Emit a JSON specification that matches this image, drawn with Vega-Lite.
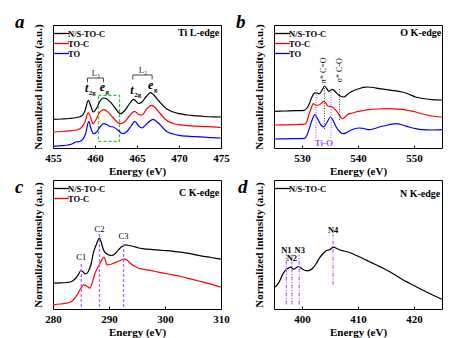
{
  "$schema": "https://vega.github.io/schema/vega-lite/v6.json",
  "background": "white",
  "padding": {"left": 14, "top": 12, "right": 0, "bottom": 0},
  "columns": 2,
  "spacing": {"row": 32, "column": 53},
  "bounds": "flush",
  "datasets": {
    "aL": [
      {"s":"N/S-TO-C","x":455,"y":28.7},{"s":"N/S-TO-C","x":456,"y":29},{"s":"N/S-TO-C","x":457,"y":29.5},{"s":"N/S-TO-C","x":457.8,"y":30.5},{"s":"N/S-TO-C","x":458.4,"y":32},{"s":"N/S-TO-C","x":458.8,"y":37},{"s":"N/S-TO-C","x":459.2,"y":47.7},{"s":"N/S-TO-C","x":459.5,"y":42},{"s":"N/S-TO-C","x":459.8,"y":36},{"s":"N/S-TO-C","x":460.2,"y":40},{"s":"N/S-TO-C","x":460.6,"y":47},{"s":"N/S-TO-C","x":461.0,"y":50},{"s":"N/S-TO-C","x":461.4,"y":49},{"s":"N/S-TO-C","x":461.9,"y":45.3},{"s":"N/S-TO-C","x":462.4,"y":40},{"s":"N/S-TO-C","x":463.0,"y":34.3},{"s":"N/S-TO-C","x":463.5,"y":37},{"s":"N/S-TO-C","x":464.0,"y":43},{"s":"N/S-TO-C","x":464.6,"y":48.7},{"s":"N/S-TO-C","x":465.2,"y":44.5},{"s":"N/S-TO-C","x":465.6,"y":46},{"s":"N/S-TO-C","x":466.1,"y":51.5},{"s":"N/S-TO-C","x":466.6,"y":55.3},{"s":"N/S-TO-C","x":467.0,"y":53},{"s":"N/S-TO-C","x":467.6,"y":47},{"s":"N/S-TO-C","x":468.5,"y":39.3},{"s":"N/S-TO-C","x":469.3,"y":36},{"s":"N/S-TO-C","x":470,"y":34.3},{"s":"N/S-TO-C","x":471,"y":33},{"s":"N/S-TO-C","x":472,"y":32.2},{"s":"N/S-TO-C","x":473,"y":31.5},{"s":"N/S-TO-C","x":474,"y":31.2},{"s":"N/S-TO-C","x":475,"y":31},
      {"s":"TO-C","x":455,"y":16},{"s":"TO-C","x":456,"y":16.5},{"s":"TO-C","x":457,"y":17.2},{"s":"TO-C","x":457.8,"y":18},{"s":"TO-C","x":458.4,"y":20.5},{"s":"TO-C","x":458.8,"y":26},{"s":"TO-C","x":459.2,"y":35.3},{"s":"TO-C","x":459.5,"y":30},{"s":"TO-C","x":459.75,"y":24.3},{"s":"TO-C","x":460.1,"y":28},{"s":"TO-C","x":460.5,"y":35},{"s":"TO-C","x":461.0,"y":38.3},{"s":"TO-C","x":461.4,"y":37},{"s":"TO-C","x":461.9,"y":32.7},{"s":"TO-C","x":462.4,"y":28},{"s":"TO-C","x":463.0,"y":24.3},{"s":"TO-C","x":463.5,"y":26},{"s":"TO-C","x":464.1,"y":32},{"s":"TO-C","x":464.7,"y":36.7},{"s":"TO-C","x":465.2,"y":33.5},{"s":"TO-C","x":465.6,"y":33},{"s":"TO-C","x":466.1,"y":38.5},{"s":"TO-C","x":466.7,"y":42.7},{"s":"TO-C","x":467.1,"y":41},{"s":"TO-C","x":467.7,"y":35},{"s":"TO-C","x":468.5,"y":27.7},{"s":"TO-C","x":469.3,"y":24.5},{"s":"TO-C","x":470,"y":23.3},{"s":"TO-C","x":471,"y":22.3},{"s":"TO-C","x":472,"y":21.8},{"s":"TO-C","x":473,"y":21.4},{"s":"TO-C","x":474,"y":21.2},{"s":"TO-C","x":475,"y":20.5},
      {"s":"TO","x":455,"y":1.5},{"s":"TO","x":456,"y":2.3},{"s":"TO","x":456.8,"y":3},{"s":"TO","x":457.4,"y":4.5},{"s":"TO","x":457.7,"y":6},{"s":"TO","x":458,"y":6.2},{"s":"TO","x":458.3,"y":7},{"s":"TO","x":458.6,"y":9.3},{"s":"TO","x":458.9,"y":15},{"s":"TO","x":459.25,"y":26.7},{"s":"TO","x":459.5,"y":20},{"s":"TO","x":459.8,"y":14.3},{"s":"TO","x":460.2,"y":16},{"s":"TO","x":460.6,"y":21},{"s":"TO","x":461.0,"y":24.3},{"s":"TO","x":461.4,"y":23.5},{"s":"TO","x":461.8,"y":21.5},{"s":"TO","x":462.2,"y":21},{"s":"TO","x":462.7,"y":18},{"s":"TO","x":463.3,"y":14.3},{"s":"TO","x":463.8,"y":16.5},{"s":"TO","x":464.3,"y":22},{"s":"TO","x":464.75,"y":26.7},{"s":"TO","x":465.2,"y":22},{"s":"TO","x":465.6,"y":20},{"s":"TO","x":466.2,"y":24.5},{"s":"TO","x":466.9,"y":28.7},{"s":"TO","x":467.4,"y":26},{"s":"TO","x":468,"y":21},{"s":"TO","x":468.5,"y":16.7},{"s":"TO","x":469.3,"y":14},{"s":"TO","x":470,"y":12.7},{"s":"TO","x":471,"y":11.8},{"s":"TO","x":472,"y":11.3},{"s":"TO","x":473,"y":10.8},{"s":"TO","x":474,"y":10.3},{"s":"TO","x":475,"y":10}
    ],
    "bL": [
      {"s":"N/S-TO-C","x":525,"y":36.7},{"s":"N/S-TO-C","x":527,"y":37},{"s":"N/S-TO-C","x":529,"y":37.3},{"s":"N/S-TO-C","x":530.4,"y":37.7},{"s":"N/S-TO-C","x":530.9,"y":40},{"s":"N/S-TO-C","x":531.3,"y":44.3},{"s":"N/S-TO-C","x":531.7,"y":50},{"s":"N/S-TO-C","x":532.1,"y":54.3},{"s":"N/S-TO-C","x":532.5,"y":55.3},{"s":"N/S-TO-C","x":533.1,"y":54.3},{"s":"N/S-TO-C","x":533.6,"y":58},{"s":"N/S-TO-C","x":534.0,"y":62},{"s":"N/S-TO-C","x":534.4,"y":59.5},{"s":"N/S-TO-C","x":534.8,"y":56.7},{"s":"N/S-TO-C","x":535.4,"y":58.7},{"s":"N/S-TO-C","x":536.0,"y":56},{"s":"N/S-TO-C","x":536.6,"y":52.7},{"s":"N/S-TO-C","x":537.5,"y":51},{"s":"N/S-TO-C","x":538.1,"y":53.5},{"s":"N/S-TO-C","x":538.7,"y":56},{"s":"N/S-TO-C","x":539.5,"y":58},{"s":"N/S-TO-C","x":540.2,"y":59.3},{"s":"N/S-TO-C","x":541,"y":60.7},{"s":"N/S-TO-C","x":541.7,"y":61},{"s":"N/S-TO-C","x":542.7,"y":60.5},{"s":"N/S-TO-C","x":543.8,"y":59.3},{"s":"N/S-TO-C","x":545,"y":58.5},{"s":"N/S-TO-C","x":546.1,"y":57.7},{"s":"N/S-TO-C","x":547.9,"y":56},{"s":"N/S-TO-C","x":549,"y":54},{"s":"N/S-TO-C","x":550.3,"y":51},{"s":"N/S-TO-C","x":551.5,"y":49.5},{"s":"N/S-TO-C","x":552.7,"y":48.7},{"s":"N/S-TO-C","x":555,"y":48},
      {"s":"TO-C","x":525,"y":23},{"s":"TO-C","x":527,"y":23.2},{"s":"TO-C","x":529,"y":23.5},{"s":"TO-C","x":530.5,"y":23.8},{"s":"TO-C","x":530.9,"y":27},{"s":"TO-C","x":531.2,"y":32.7},{"s":"TO-C","x":531.6,"y":39},{"s":"TO-C","x":532,"y":44.3},{"s":"TO-C","x":532.5,"y":42.7},{"s":"TO-C","x":533.1,"y":43.3},{"s":"TO-C","x":533.5,"y":45},{"s":"TO-C","x":533.9,"y":46.7},{"s":"TO-C","x":534.3,"y":44.5},{"s":"TO-C","x":534.6,"y":42},{"s":"TO-C","x":535.0,"y":41.5},{"s":"TO-C","x":535.4,"y":41},{"s":"TO-C","x":535.9,"y":38.5},{"s":"TO-C","x":536.3,"y":36},{"s":"TO-C","x":536.9,"y":31},{"s":"TO-C","x":537.2,"y":29.3},{"s":"TO-C","x":537.6,"y":30.5},{"s":"TO-C","x":538.1,"y":33.3},{"s":"TO-C","x":539,"y":35},{"s":"TO-C","x":539.6,"y":36},{"s":"TO-C","x":541,"y":37.5},{"s":"TO-C","x":542,"y":38.3},{"s":"TO-C","x":543.5,"y":39},{"s":"TO-C","x":545,"y":39.3},{"s":"TO-C","x":546.5,"y":39.2},{"s":"TO-C","x":547.9,"y":38.7},{"s":"TO-C","x":549,"y":37.5},{"s":"TO-C","x":550.3,"y":36},{"s":"TO-C","x":551.5,"y":34},{"s":"TO-C","x":552.7,"y":32.5},{"s":"TO-C","x":555,"y":31},
      {"s":"TO","x":525,"y":9},{"s":"TO","x":527,"y":9.2},{"s":"TO","x":529,"y":9.4},{"s":"TO","x":530.5,"y":9.6},{"s":"TO","x":530.9,"y":13},{"s":"TO","x":531.3,"y":19.3},{"s":"TO","x":531.8,"y":28},{"s":"TO","x":532.3,"y":33.3},{"s":"TO","x":532.8,"y":29},{"s":"TO","x":533.4,"y":23},{"s":"TO","x":533.9,"y":21},{"s":"TO","x":534.4,"y":25},{"s":"TO","x":535.1,"y":31},{"s":"TO","x":535.6,"y":27},{"s":"TO","x":536.1,"y":21},{"s":"TO","x":536.7,"y":16.5},{"s":"TO","x":537.4,"y":14.3},{"s":"TO","x":538,"y":15.5},{"s":"TO","x":538.7,"y":17.7},{"s":"TO","x":539.5,"y":19.5},{"s":"TO","x":540.2,"y":20},{"s":"TO","x":541,"y":19.5},{"s":"TO","x":542,"y":18.3},{"s":"TO","x":543,"y":19.5},{"s":"TO","x":543.8,"y":21},{"s":"TO","x":545,"y":22.5},{"s":"TO","x":546,"y":23.8},{"s":"TO","x":546.8,"y":24.3},{"s":"TO","x":548,"y":23},{"s":"TO","x":549.1,"y":21},{"s":"TO","x":550.3,"y":19.3},{"s":"TO","x":551.5,"y":18.3},{"s":"TO","x":553,"y":18},{"s":"TO","x":555,"y":18.3}
    ],
    "cL": [
      {"s":"N/S-TO-C","x":280,"y":25.8},{"s":"N/S-TO-C","x":281.5,"y":26.2},{"s":"N/S-TO-C","x":282.4,"y":26.5},{"s":"N/S-TO-C","x":283.2,"y":27.3},{"s":"N/S-TO-C","x":283.6,"y":28.5},{"s":"N/S-TO-C","x":284.1,"y":31},{"s":"N/S-TO-C","x":284.5,"y":34.2},{"s":"N/S-TO-C","x":285,"y":38.5},{"s":"N/S-TO-C","x":285.4,"y":37},{"s":"N/S-TO-C","x":285.7,"y":35.2},{"s":"N/S-TO-C","x":286.0,"y":35.5},{"s":"N/S-TO-C","x":286.3,"y":37.5},{"s":"N/S-TO-C","x":286.8,"y":45},{"s":"N/S-TO-C","x":287.2,"y":55.8},{"s":"N/S-TO-C","x":287.7,"y":64},{"s":"N/S-TO-C","x":288.3,"y":70.8},{"s":"N/S-TO-C","x":288.6,"y":67},{"s":"N/S-TO-C","x":289,"y":59.2},{"s":"N/S-TO-C","x":289.6,"y":55},{"s":"N/S-TO-C","x":290.5,"y":53.5},{"s":"N/S-TO-C","x":291.1,"y":55.5},{"s":"N/S-TO-C","x":291.7,"y":59.2},{"s":"N/S-TO-C","x":292.3,"y":62.5},{"s":"N/S-TO-C","x":292.9,"y":64.2},{"s":"N/S-TO-C","x":293.6,"y":63.5},{"s":"N/S-TO-C","x":294.4,"y":62.5},{"s":"N/S-TO-C","x":295.3,"y":61},{"s":"N/S-TO-C","x":296.2,"y":60.2},{"s":"N/S-TO-C","x":298,"y":59.3},{"s":"N/S-TO-C","x":299.8,"y":58.5},{"s":"N/S-TO-C","x":301.5,"y":57.7},{"s":"N/S-TO-C","x":302.8,"y":56.8},{"s":"N/S-TO-C","x":304.5,"y":55.3},{"s":"N/S-TO-C","x":306.4,"y":53.2},{"s":"N/S-TO-C","x":308.2,"y":51.5},{"s":"N/S-TO-C","x":310,"y":49.8},
      {"s":"TO-C","x":280,"y":4.2},{"s":"TO-C","x":281.3,"y":5},{"s":"TO-C","x":282.4,"y":5.8},{"s":"TO-C","x":283.3,"y":7.5},{"s":"TO-C","x":283.9,"y":10.8},{"s":"TO-C","x":284.4,"y":15},{"s":"TO-C","x":284.8,"y":19.2},{"s":"TO-C","x":285.2,"y":22.5},{"s":"TO-C","x":285.5,"y":24.2},{"s":"TO-C","x":286,"y":23},{"s":"TO-C","x":286.6,"y":20.8},{"s":"TO-C","x":287,"y":26},{"s":"TO-C","x":287.5,"y":35.8},{"s":"TO-C","x":288,"y":41.5},{"s":"TO-C","x":288.4,"y":45.8},{"s":"TO-C","x":288.8,"y":50},{"s":"TO-C","x":289.1,"y":51.8},{"s":"TO-C","x":289.4,"y":48},{"s":"TO-C","x":289.6,"y":44.2},{"s":"TO-C","x":290.2,"y":44.5},{"s":"TO-C","x":290.8,"y":45.8},{"s":"TO-C","x":291.8,"y":48},{"s":"TO-C","x":292.7,"y":49.8},{"s":"TO-C","x":293.3,"y":48.5},{"s":"TO-C","x":293.8,"y":45.8},{"s":"TO-C","x":294.5,"y":43},{"s":"TO-C","x":295.3,"y":40.8},{"s":"TO-C","x":296.8,"y":39.2},{"s":"TO-C","x":298.3,"y":37.5},{"s":"TO-C","x":299.8,"y":35.8},{"s":"TO-C","x":301.3,"y":34.2},{"s":"TO-C","x":302.8,"y":32.5},{"s":"TO-C","x":304.5,"y":30.2},{"s":"TO-C","x":306.4,"y":27.5},{"s":"TO-C","x":308.2,"y":24.8},{"s":"TO-C","x":310,"y":21.8}
    ],
    "dL": [
      {"s":"N/S-TO-C","x":395,"y":21.5},{"s":"N/S-TO-C","x":395.6,"y":24.2},{"s":"N/S-TO-C","x":396.1,"y":29},{"s":"N/S-TO-C","x":396.5,"y":34.2},{"s":"N/S-TO-C","x":397.1,"y":39.2},{"s":"N/S-TO-C","x":397.6,"y":41},{"s":"N/S-TO-C","x":398,"y":41.8},{"s":"N/S-TO-C","x":398.4,"y":39.8},{"s":"N/S-TO-C","x":398.9,"y":41},{"s":"N/S-TO-C","x":399.4,"y":42.5},{"s":"N/S-TO-C","x":400.1,"y":39.8},{"s":"N/S-TO-C","x":401,"y":38.2},{"s":"N/S-TO-C","x":401.9,"y":40.8},{"s":"N/S-TO-C","x":402.5,"y":45},{"s":"N/S-TO-C","x":403.1,"y":50.8},{"s":"N/S-TO-C","x":403.7,"y":55},{"s":"N/S-TO-C","x":404.3,"y":58.2},{"s":"N/S-TO-C","x":405,"y":59.5},{"s":"N/S-TO-C","x":405.6,"y":61.8},{"s":"N/S-TO-C","x":406.2,"y":60.5},{"s":"N/S-TO-C","x":406.7,"y":59.2},{"s":"N/S-TO-C","x":407.5,"y":58},{"s":"N/S-TO-C","x":408.5,"y":56.5},{"s":"N/S-TO-C","x":409.6,"y":53.8},{"s":"N/S-TO-C","x":410.8,"y":50.8},{"s":"N/S-TO-C","x":412,"y":47.5},{"s":"N/S-TO-C","x":413.2,"y":44.2},{"s":"N/S-TO-C","x":414.4,"y":41},{"s":"N/S-TO-C","x":415.6,"y":37.5},{"s":"N/S-TO-C","x":416.8,"y":33.5},{"s":"N/S-TO-C","x":418,"y":29.2},{"s":"N/S-TO-C","x":419.2,"y":25.8},{"s":"N/S-TO-C","x":420.3,"y":22.5},{"s":"N/S-TO-C","x":421.5,"y":19},{"s":"N/S-TO-C","x":422.7,"y":15.8},{"s":"N/S-TO-C","x":423.8,"y":12.8},{"s":"N/S-TO-C","x":425,"y":9.8}
    ]
  },
  "concat": [
    {
      "width": 168, "height": 123,
      "title": {"text": "a", "anchor": "start", "frame": "group", "orient": "top", "offset": 0, "baseline": "alphabetic", "dx": -38, "dy": 23, "font": "Liberation Serif", "fontStyle": "italic", "fontWeight": "bold", "fontSize": 19, "color": "black"},
      "encoding": {
        "x": {"field": "x", "type": "quantitative", "scale": {"domain": [455, 475], "nice": false, "zero": false}, "axis": {"values": [455, 460, 465, 470, 475], "title": "Energy (eV)"}},
        "y": {"field": "y", "type": "quantitative", "scale": {"domain": [0, 123], "nice": false}, "axis": {"title": "Normalized intensity (a.u.)"}}
      },
      "layer": [
        {
          "data": {"values": [{"x": 460.42, "x2": 462.92, "y": 52.7, "y2": 6.7}]},
          "mark": {"type": "rect", "fill": null, "stroke": "#2fc33f", "strokeDash": [3, 2], "strokeWidth": 1.3},
          "encoding": {"x2": {"field": "x2"}, "y2": {"field": "y2"}}
        },
        {
          "data": {"name": "aL"},
          "mark": {"type": "line", "strokeWidth": 1.2, "interpolate": "monotone"},
          "encoding": {
            "color": {"field": "s", "type": "nominal", "scale": {"domain": ["N/S-TO-C", "TO-C", "TO"], "range": ["#000000", "#ff0000", "#0000ff"]}, "legend": {"title": null}}
          }
        },
        {
          "data": {"values": [
            {"x": 459.1, "x2": 461.0, "y": 70, "y2": 70},
            {"x": 459.1, "x2": 459.1, "y": 65.5, "y2": 70},
            {"x": 461.0, "x2": 461.0, "y": 65.5, "y2": 70},
            {"x": 464.5, "x2": 466.8, "y": 73, "y2": 73},
            {"x": 464.5, "x2": 464.5, "y": 68.5, "y2": 73},
            {"x": 466.8, "x2": 466.8, "y": 68.5, "y2": 73}
          ]},
          "mark": {"type": "rule", "color": "#333333", "strokeWidth": 0.9},
          "encoding": {"x2": {"field": "x2"}, "y2": {"field": "y2"}}
        },
        {
          "data": {"values": [{"x": 460.1, "y": 72.5, "t": "L₃"}, {"x": 465.7, "y": 75.5, "t": "L₂"}]},
          "mark": {"type": "text", "font": "Liberation Serif", "fontSize": 8.5, "baseline": "alphabetic", "color": "#222222"},
          "encoding": {"text": {"field": "t"}}
        },
        {
          "data": {"values": [{"x": 459.2, "y": 56, "t": "t", "sub": "2g"}, {"x": 461.2, "y": 56.7, "t": "e", "sub": "g"}, {"x": 464.6, "y": 54.3, "t": "t", "sub": "2g"}, {"x": 466.95, "y": 58.7, "t": "e", "sub": "g"}]},
          "mark": {"type": "text", "font": "Liberation Serif", "fontSize": 12, "fontStyle": "italic", "fontWeight": "bold", "align": "right", "baseline": "alphabetic", "color": "black"},
          "encoding": {"text": {"field": "t"}}
        },
        {
          "data": {"values": [{"x": 459.2, "y": 56, "t": "t", "sub": "2g"}, {"x": 461.2, "y": 56.7, "t": "e", "sub": "g"}, {"x": 464.6, "y": 54.3, "t": "t", "sub": "2g"}, {"x": 466.95, "y": 58.7, "t": "e", "sub": "g"}]},
          "mark": {"type": "text", "font": "Liberation Serif", "fontSize": 7, "fontWeight": "bold", "align": "left", "baseline": "alphabetic", "dx": 0.5, "dy": 3, "color": "black"},
          "encoding": {"text": {"field": "sub"}}
        },
        {
          "data": {"values": [{"x": 474.8, "y": 115, "t": "Ti L-edge"}]},
          "mark": {"type": "text", "font": "Liberation Serif", "fontSize": 10, "fontWeight": "bold", "align": "right", "baseline": "middle", "color": "black"},
          "encoding": {"text": {"field": "t"}}
        }
      ]
    },
    {
      "width": 168, "height": 123,
      "title": {"text": "b", "anchor": "start", "frame": "group", "orient": "top", "offset": 0, "baseline": "alphabetic", "dx": -38, "dy": 23, "font": "Liberation Serif", "fontStyle": "italic", "fontWeight": "bold", "fontSize": 19, "color": "black"},
      "encoding": {
        "x": {"field": "x", "type": "quantitative", "scale": {"domain": [525, 555], "nice": false, "zero": false}, "axis": {"values": [530, 540, 550], "title": "Energy (eV)"}},
        "y": {"field": "y", "type": "quantitative", "scale": {"domain": [0, 123], "nice": false}, "axis": {"title": "Normalized intensity (a.u.)"}}
      },
      "layer": [
        {
          "data": {"name": "bL"},
          "mark": {"type": "line", "strokeWidth": 1.2, "interpolate": "monotone"},
          "encoding": {
            "color": {"field": "s", "type": "nominal", "scale": {"domain": ["N/S-TO-C", "TO-C", "TO"], "range": ["#000000", "#ff0000", "#0000ff"]}, "legend": {"title": null}}
          }
        },
        {
          "data": {"values": [{"x": 532.5, "y": 10, "y2": 60}, {"x": 535.2, "y": 10, "y2": 60}]},
          "mark": {"type": "rule", "color": "#b366ff", "strokeWidth": 1.2, "strokeDash": [1, 1.5]},
          "encoding": {"y2": {"field": "y2"}}
        },
        {
          "data": {"values": [{"x": 534.0, "y": 19, "y2": 61}, {"x": 536.7, "y": 28, "y2": 59}]},
          "mark": {"type": "rule", "color": "#444444", "strokeWidth": 1.1, "strokeDash": [1, 1.5]},
          "encoding": {"y2": {"field": "y2"}}
        },
        {
          "data": {"values": [{"x": 533.95, "y": 77.7, "t": "π* C=O"}, {"x": 536.7, "y": 77.7, "t": "σ* C-O"}]},
          "mark": {"type": "text", "font": "Liberation Serif", "fontSize": 8, "angle": 270, "align": "center", "baseline": "middle", "color": "black"},
          "encoding": {"text": {"field": "t"}}
        },
        {
          "data": {"values": [{"x": 533.9, "y": 5.5, "t": "Ti-O"}]},
          "mark": {"type": "text", "font": "Liberation Serif", "fontSize": 9, "fontWeight": "bold", "align": "center", "baseline": "middle", "color": "#a64dff"},
          "encoding": {"text": {"field": "t"}}
        },
        {
          "data": {"values": [{"x": 554.85, "y": 115, "t": "O K-edge"}]},
          "mark": {"type": "text", "font": "Liberation Serif", "fontSize": 10, "fontWeight": "bold", "align": "right", "baseline": "middle", "color": "black"},
          "encoding": {"text": {"field": "t"}}
        }
      ]
    },
    {
      "width": 168, "height": 129,
      "title": {"text": "c", "anchor": "start", "frame": "group", "orient": "top", "offset": 0, "baseline": "alphabetic", "dx": -38, "dy": 31.5, "font": "Liberation Serif", "fontStyle": "italic", "fontWeight": "bold", "fontSize": 19, "color": "black"},
      "encoding": {
        "x": {"field": "x", "type": "quantitative", "scale": {"domain": [280, 310], "nice": false, "zero": false}, "axis": {"values": [280, 290, 300, 310], "title": "Energy (eV)"}},
        "y": {"field": "y", "type": "quantitative", "scale": {"domain": [0, 129], "nice": false}, "axis": {"title": "Normalized intensity (a.u.)"}}
      },
      "layer": [
        {
          "data": {"name": "cL"},
          "mark": {"type": "line", "strokeWidth": 1.2, "interpolate": "monotone"},
          "encoding": {
            "color": {"field": "s", "type": "nominal", "scale": {"domain": ["N/S-TO-C", "TO-C"], "range": ["#000000", "#ff0000"]}, "legend": {"title": null}}
          }
        },
        {
          "data": {"values": [{"x": 285.05, "y": 2, "y2": 47}, {"x": 288.3, "y": 2, "y2": 75}, {"x": 292.6, "y": 2, "y2": 67.5}]},
          "mark": {"type": "rule", "color": "#b366ff", "strokeWidth": 1.3, "strokeDash": [3, 2]},
          "encoding": {"y2": {"field": "y2"}}
        },
        {
          "data": {"values": [{"x": 285.05, "y": 52, "t": "C1"}, {"x": 288.3, "y": 80, "t": "C2"}, {"x": 292.6, "y": 72.8, "t": "C3"}]},
          "mark": {"type": "text", "font": "Liberation Serif", "fontSize": 8.5, "align": "center", "baseline": "middle", "color": "black"},
          "encoding": {"text": {"field": "t"}}
        },
        {
          "data": {"values": [{"x": 309.7, "y": 115.8, "t": "C K-edge"}]},
          "mark": {"type": "text", "font": "Liberation Serif", "fontSize": 10, "fontWeight": "bold", "align": "right", "baseline": "middle", "color": "black"},
          "encoding": {"text": {"field": "t"}}
        }
      ]
    },
    {
      "width": 168, "height": 129,
      "title": {"text": "d", "anchor": "start", "frame": "group", "orient": "top", "offset": 0, "baseline": "alphabetic", "dx": -36, "dy": 31.5, "font": "Liberation Serif", "fontStyle": "italic", "fontWeight": "bold", "fontSize": 19, "color": "black"},
      "encoding": {
        "x": {"field": "x", "type": "quantitative", "scale": {"domain": [395, 425], "nice": false, "zero": false}, "axis": {"values": [400, 410, 420], "title": "Energy (eV)"}},
        "y": {"field": "y", "type": "quantitative", "scale": {"domain": [0, 129], "nice": false}, "axis": {"title": "Normalized intensity (a.u.)"}}
      },
      "layer": [
        {
          "data": {"name": "dL"},
          "mark": {"type": "line", "strokeWidth": 1.2, "interpolate": "monotone"},
          "encoding": {
            "color": {"field": "s", "type": "nominal", "scale": {"domain": ["N/S-TO-C"], "range": ["#000000"]}, "legend": {"title": null}}
          }
        },
        {
          "data": {"values": [{"x": 397.2, "y": 4.5, "y2": 54.5}, {"x": 398.2, "y": 4.5, "y2": 47.5}, {"x": 399.5, "y": 4.5, "y2": 54.5}, {"x": 405.55, "y": 24.2, "y2": 74.5}]},
          "mark": {"type": "rule", "color": "#b366ff", "strokeWidth": 1.2, "strokeDash": [4, 1.5, 1, 1.5]},
          "encoding": {"y2": {"field": "y2"}}
        },
        {
          "data": {"values": [{"x": 397.2, "y": 59.5, "t": "N1"}, {"x": 398.2, "y": 51.5, "t": "N2"}, {"x": 399.6, "y": 59.5, "t": "N3"}, {"x": 405.55, "y": 79, "t": "N4"}]},
          "mark": {"type": "text", "font": "Liberation Serif", "fontSize": 8.5, "fontWeight": "bold", "align": "center", "baseline": "middle", "color": "black"},
          "encoding": {"text": {"field": "t"}}
        },
        {
          "data": {"values": [{"x": 424.7, "y": 114.8, "t": "N K-edge"}]},
          "mark": {"type": "text", "font": "Liberation Serif", "fontSize": 10, "fontWeight": "bold", "align": "right", "baseline": "middle", "color": "black"},
          "encoding": {"text": {"field": "t"}}
        }
      ]
    }
  ],
  "resolve": {
    "scale": {"x": "independent", "y": "independent", "color": "independent"},
    "axis": {"x": "independent", "y": "independent"},
    "legend": {"color": "independent"}
  },
  "config": {
    "font": "Liberation Serif",
    "view": {"stroke": "black", "strokeWidth": 1},
    "axis": {
      "grid": false, "domain": false,
      "labelFont": "Liberation Serif", "labelFontWeight": "bold", "labelFontSize": 11, "labelColor": "black",
      "titleFont": "Liberation Serif", "titleFontWeight": "bold", "titleFontSize": 11, "titleColor": "black"
    },
    "axisX": {"ticks": true, "tickSize": -3, "tickColor": "black", "labelPadding": 7, "titlePadding": 2, "labelFlush": false},
    "axisY": {"labels": false, "ticks": false, "titlePadding": 10},
    "legend": {
      "orient": "top-left", "offset": 3.5, "padding": 0,
      "symbolType": "M-2,0H2", "symbolSize": 56, "symbolStrokeWidth": 1.3,
      "labelFont": "Liberation Serif", "labelFontWeight": "bold", "labelFontSize": 8.5, "labelColor": "black",
      "labelOffset": 2, "rowPadding": 1
    }
  }
}
